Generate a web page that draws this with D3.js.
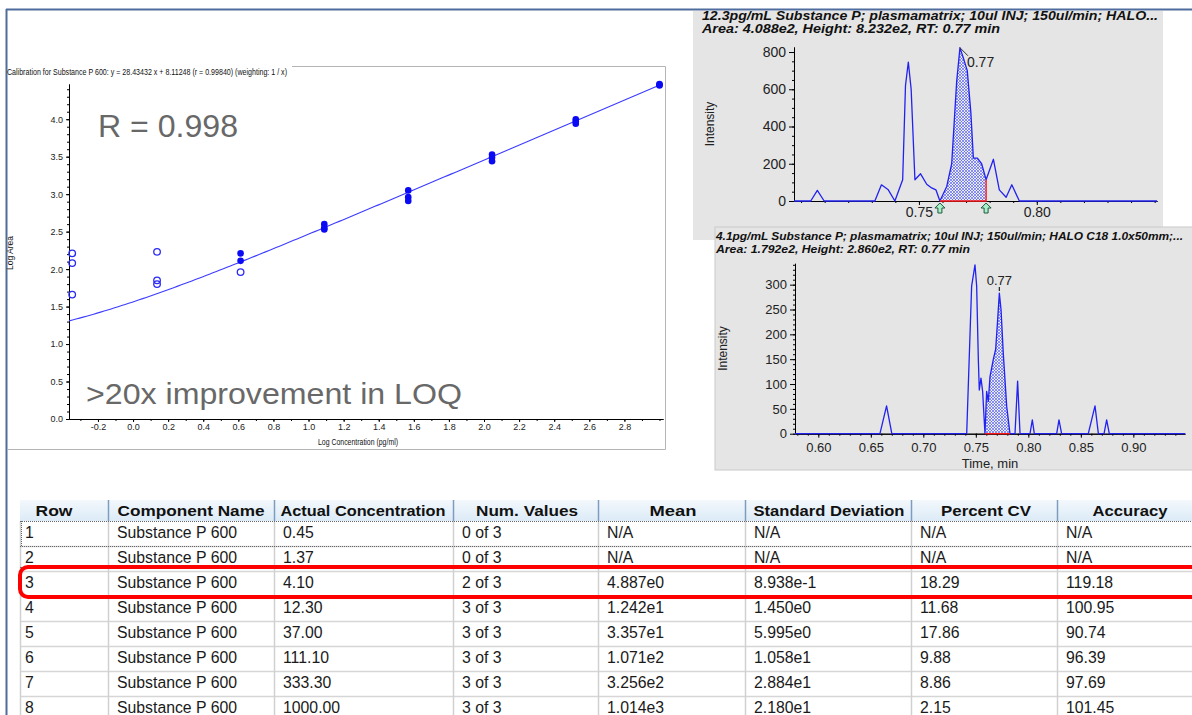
<!DOCTYPE html>
<html><head><meta charset="utf-8">
<script src="https://cdn.jsdelivr.net/npm/d3@7"></script>
<style>
html,body{margin:0;padding:0;background:#fff;}
svg{display:block;font-family:"Liberation Sans",Arial,sans-serif;}
</style></head><body>
<svg id="c" width="1192" height="715"></svg>
<script>
// ---------------- DATA ----------------
const calTitle = "Calibration for Substance P 600: y = 28.43432 x + 8.11248 (r = 0.99840)  (weighting: 1 / x)";
const fitSlope = 28.43432, fitIntercept = 8.11248;
const calConcentrations = [0.45, 1.37, 4.10, 12.30, 37.00, 111.10, 333.30, 1000.00];
const calLogAreaUsed = [[], [], [2.21, 2.11], [2.60, 2.55, 2.53], [3.05, 2.96, 2.91], [3.53, 3.49, 3.44], [4.00, 3.97, 3.94], [4.47, 4.45, 4.46]];
const calLogAreaExcluded = [[2.21, 2.08, 1.66], [2.23, 1.85, 1.80], [1.96], [], [], [], [], []];
const calXTicks = [-0.2, 0.0, 0.2, 0.4, 0.6, 0.8, 1.0, 1.2, 1.4, 1.6, 1.8, 2.0, 2.2, 2.4, 2.6, 2.8];
const calYTicks = [0.0, 0.5, 1.0, 1.5, 2.0, 2.5, 3.0, 3.5, 4.0];
const calXLabel = "Log Concentration (pg/ml)";
const calYLabel = "Log Area";
const noteR = "R = 0.998";
const noteLOQ = ">20x improvement in LOQ";

const chrom1Title = ["12.3pg/mL Substance P; plasmamatrix; 10ul INJ; 150ul/min; HALO...", "Area: 4.088e2, Height: 8.232e2, RT: 0.77 min"];
const chrom1Time = [0.6970, 0.7041, 0.7069, 0.7098, 0.7313, 0.7341, 0.7370, 0.7398, 0.7431, 0.7443, 0.7455, 0.7467, 0.7483, 0.7507, 0.7533, 0.7554, 0.7572, 0.7589, 0.7618, 0.7639, 0.7660, 0.7674, 0.7688, 0.7705, 0.7720, 0.7731, 0.7748, 0.7766, 0.7785, 0.7816, 0.7841, 0.7870, 0.7894, 0.7926, 0.8510];
const chrom1Intensity = [0, 0, 57, 0, 0, 87, 60, 0, 114, 620, 746, 600, 114, 146, 90, 70, 60, 0, 78, 200, 640, 823, 770, 700, 480, 230, 230, 200, 114, 224, 60, 20, 87, 0, 0];
const chrom1PeakStart = 0.7589, chrom1PeakEnd = 0.7785, chrom1Apex = 0.7674, chrom1ApexLabel = "0.77";
const chrom1XTicks = [0.75, 0.80];
const chrom1YTicks = [0, 200, 400, 600, 800];

const chrom2Title = ["4.1pg/mL Substance P; plasmamatrix; 10ul INJ; 150ul/min; HALO C18 1.0x50mm;...", "Area: 1.792e2, Height: 2.860e2, RT: 0.77 min"];
const chrom2Time = [0.5778, 0.6587, 0.6650, 0.6700, 0.7413, 0.7460, 0.7492, 0.7508, 0.7524, 0.7533, 0.7549, 0.7565, 0.7587, 0.7603, 0.7619, 0.7635, 0.7667, 0.7689, 0.7708, 0.7724, 0.7740, 0.7762, 0.7794, 0.7825, 0.7873, 0.7898, 0.7921, 0.8016, 0.8038, 0.8057, 0.8270, 0.8292, 0.8317, 0.8571, 0.8635, 0.8667, 0.8721, 0.8746, 0.8771, 0.9492];
const chrom2Intensity = [0, 0, 56, 0, 0, 297, 340, 297, 149, 88, 112, 85, 0, 85, 65, 115, 150, 170, 230, 283, 250, 160, 55, 0, 0, 106, 0, 0, 28, 0, 0, 28, 0, 0, 56, 0, 0, 28, 0, 0];
const chrom2PeakStart = 0.7587, chrom2PeakEnd = 0.7825, chrom2Apex = 0.7724, chrom2ApexLabel = "0.77";
const chrom2XTicks = [0.60, 0.65, 0.70, 0.75, 0.80, 0.85, 0.90];
const chrom2YTicks = [0, 50, 100, 150, 200, 250, 300];

const tableColumns = ["Row", "Component Name", "Actual Concentration", "Num. Values", "Mean", "Standard Deviation", "Percent CV", "Accuracy"];
const rowNumbers = ["1", "2", "3", "4", "5", "6", "7", "8"];
const componentNames = ["Substance P 600", "Substance P 600", "Substance P 600", "Substance P 600", "Substance P 600", "Substance P 600", "Substance P 600", "Substance P 600"];
const actualConcentration = ["0.45", "1.37", "4.10", "12.30", "37.00", "111.10", "333.30", "1000.00"];
const numValues = ["0 of 3", "0 of 3", "2 of 3", "3 of 3", "3 of 3", "3 of 3", "3 of 3", "3 of 3"];
const means = ["N/A", "N/A", "4.887e0", "1.242e1", "3.357e1", "1.071e2", "3.256e2", "1.014e3"];
const stdDevs = ["N/A", "N/A", "8.938e-1", "1.450e0", "5.995e0", "1.058e1", "2.884e1", "2.180e1"];
const percentCV = ["N/A", "N/A", "18.29", "11.68", "17.86", "9.88", "8.86", "2.15"];
const accuracy = ["N/A", "N/A", "119.18", "100.95", "90.74", "96.39", "97.69", "101.45"];
const highlightedRow = 2;

// ---------------- DRAW ----------------
const svg = d3.select("#c");
const defs = svg.append("defs");
const pat = defs.append("pattern").attr("id", "hatch").attr("width", 3).attr("height", 3).attr("patternUnits", "userSpaceOnUse");
pat.append("rect").attr("width", 3).attr("height", 3).attr("fill", "#e9ebf8");
pat.append("path").attr("d", "M0,0L3,3M3,0L0,3").attr("stroke", "#4650e6").attr("stroke-width", 0.6);
const hg = defs.append("linearGradient").attr("id", "hdr").attr("x1", 0).attr("x2", 0).attr("y1", 0).attr("y2", 1);
hg.append("stop").attr("offset", "0%").attr("stop-color", "#f3f8fc");
hg.append("stop").attr("offset", "100%").attr("stop-color", "#dcebf7");

// outer frame
svg.append("line").attr("x1", 6).attr("x2", 1192).attr("y1", 9.5).attr("y2", 9.5).attr("stroke", "#4f6d9c").attr("stroke-width", 2);
svg.append("line").attr("x1", 6.5).attr("x2", 6.5).attr("y1", 9).attr("y2", 715).attr("stroke", "#4f6d9c").attr("stroke-width", 2);

// ===== calibration panel =====
const gCal = svg.append("g");
gCal.append("line").attr("x1", 292).attr("x2", 665.5).attr("y1", 66.5).attr("y2", 66.5).attr("stroke", "#b4b4b4");
gCal.append("line").attr("x1", 665.5).attr("x2", 665.5).attr("y1", 66.5).attr("y2", 449.5).attr("stroke", "#b4b4b4");
gCal.append("line").attr("x1", 8).attr("x2", 665.5).attr("y1", 449.5).attr("y2", 449.5).attr("stroke", "#b4b4b4");
gCal.append("text").attr("x", 7).attr("y", 75).attr("font-size", 9).attr("fill", "#111")
  .attr("textLength", 280).attr("lengthAdjust", "spacingAndGlyphs").text(calTitle);

const xC = d3.scaleLinear().domain([-0.365, 3.02]).range([69, 663]);
const yC = d3.scaleLinear().domain([0, 4.47]).range([419, 84]);

function styleAxis(g, fs, col) {
  g.attr("font-size", fs).attr("font-family", '"Liberation Sans",Arial,sans-serif');
  g.selectAll("path.domain").attr("stroke", "#000");
  g.selectAll(".tick line").attr("stroke", "#000");
  g.selectAll(".tick text").attr("fill", col);
}
// minor ticks
gCal.append("g").attr("transform", "translate(0,419)")
  .call(d3.axisBottom(xC).tickValues(d3.range(-0.3, 3.01, 0.1)).tickSize(2).tickFormat("").tickSizeOuter(0))
  .call(g => styleAxis(g, 9, "#222"));
gCal.append("g").attr("transform", "translate(69,0)")
  .call(d3.axisLeft(yC).tickValues(d3.range(0, 4.45, 0.1)).tickSize(2).tickFormat("").tickSizeOuter(0))
  .call(g => styleAxis(g, 9, "#222"));
// major ticks
gCal.append("g").attr("transform", "translate(0,419)")
  .call(d3.axisBottom(xC).tickValues(calXTicks).tickSize(3).tickPadding(2).tickSizeOuter(0).tickFormat(d => d.toFixed(1)))
  .call(g => styleAxis(g, 9, "#222"));
gCal.append("g").attr("transform", "translate(69,0)")
  .call(d3.axisLeft(yC).tickValues(calYTicks).tickSize(3).tickPadding(3).tickSizeOuter(0).tickFormat(d => d.toFixed(1)))
  .call(g => styleAxis(g, 9, "#222"));
gCal.append("text").attr("x", 358).attr("y", 445).attr("text-anchor", "middle").attr("font-size", 9).attr("fill", "#111")
  .attr("textLength", 80).attr("lengthAdjust", "spacingAndGlyphs").text(calXLabel);
gCal.append("text").attr("transform", "translate(13,253) rotate(-90)").attr("text-anchor", "middle").attr("font-size", 8.5).attr("fill", "#111")
  .text(calYLabel);

// fit curve (from the stated regression equation)
const fitX = d3.range(xC.domain()[0], 3.0001, 0.02);
const fitLine = d3.line().x(d => xC(d)).y(d => yC(Math.log10(fitSlope * Math.pow(10, d) + fitIntercept)));
gCal.append("path").attr("d", fitLine(fitX)).attr("fill", "none").attr("stroke", "#3c3cff").attr("stroke-width", 1.1);

const usedPts = [], exclPts = [];
calConcentrations.forEach((c, i) => {
  calLogAreaUsed[i].forEach(v => usedPts.push([Math.log10(c), v]));
  calLogAreaExcluded[i].forEach(v => exclPts.push([Math.log10(c), v]));
});
gCal.selectAll("circle.used").data(usedPts).join("circle").attr("class", "used")
  .attr("cx", d => xC(d[0])).attr("cy", d => yC(d[1])).attr("r", 3.3).attr("fill", "#0a0af5");
gCal.selectAll("circle.excl").data(exclPts).join("circle").attr("class", "excl")
  .attr("cx", d => xC(d[0])).attr("cy", d => yC(d[1])).attr("r", 3.3).attr("fill", "none").attr("stroke", "#2a2af5").attr("stroke-width", 1.3);

gCal.append("text").attr("x", 98).attr("y", 137).attr("font-size", 32).attr("fill", "#686868")
  .attr("textLength", 140).attr("lengthAdjust", "spacingAndGlyphs").text(noteR);
gCal.append("text").attr("x", 86).attr("y", 404).attr("font-size", 30).attr("fill", "#686868")
  .attr("textLength", 376).attr("lengthAdjust", "spacingAndGlyphs").text(noteLOQ);

// ===== chromatogram panels =====
function drawChrom(o) {
  const g = svg.append("g");
  g.append("rect").attr("x", o.box[0]).attr("y", o.box[1]).attr("width", o.box[2]).attr("height", o.box[3])
    .attr("fill", "#e5e5e5").attr("stroke", o.boxStroke || "none");
  o.title.forEach((t, i) => {
    g.append("text").attr("x", o.titleX).attr("y", o.titleY[i]).attr("font-size", o.titleFs)
      .attr("font-weight", "bold").attr("font-style", "italic").attr("fill", "#111")
      .attr("textLength", o.titleW[i]).attr("lengthAdjust", "spacingAndGlyphs").text(t);
  });
  const x = d3.scaleLinear().domain(o.xDom).range(o.xRange);
  const y = d3.scaleLinear().domain(o.yDom).range(o.yRange);
  // minor ticks
  g.append("g").attr("transform", `translate(0,${o.yRange[0]})`)
    .call(d3.axisBottom(x).tickValues(o.xMinor).tickSize(2).tickFormat("").tickSizeOuter(0))
    .call(a => styleAxis(a, o.fs, "#222"));
  g.append("g").attr("transform", `translate(${o.xRange[0]},0)`)
    .call(d3.axisLeft(y).tickValues(o.yMinor).tickSize(2).tickFormat("").tickSizeOuter(0))
    .call(a => styleAxis(a, o.fs, "#222"));
  g.append("g").attr("transform", `translate(0,${o.yRange[0]})`)
    .call(d3.axisBottom(x).tickValues(o.xTicks).tickSize(4).tickPadding(o.xPad).tickSizeOuter(0).tickFormat(d3.format(".2f")))
    .call(a => styleAxis(a, o.fs, "#222"));
  g.append("g").attr("transform", `translate(${o.xRange[0]},0)`)
    .call(d3.axisLeft(y).tickValues(o.yTicks).tickSize(5).tickPadding(3).tickSizeOuter(0))
    .call(a => styleAxis(a, o.fs, "#222"));
  g.append("text").attr("transform", `translate(${o.yLabelX},${(o.yRange[0] + o.yRange[1]) / 2}) rotate(-90)`)
    .attr("text-anchor", "middle").attr("font-size", 12).attr("fill", "#222").text("Intensity");
  if (o.xLabel) g.append("text").attr("x", (o.xRange[0] + o.xRange[1]) / 2).attr("y", o.xLabelY)
    .attr("text-anchor", "middle").attr("font-size", 13).attr("fill", "#222").text(o.xLabel);

  const pts = o.time.map((t, i) => [t, o.inten[i]]);
  const peak = pts.filter(p => p[0] >= o.ps - 1e-9 && p[0] <= o.pe + 1e-9);
  g.append("path").attr("d", d3.area().x(d => x(d[0])).y0(y(0)).y1(d => y(d[1]))(peak)).attr("fill", "url(#hatch)");
  g.append("path").attr("d", d3.line().x(d => x(d[0])).y(d => y(d[1]))(pts))
    .attr("fill", "none").attr("stroke", "#2222f0").attr("stroke-width", 1.3).attr("stroke-linejoin", "round");
  const endV = peak[peak.length - 1][1];
  g.append("path").attr("d", `M${x(o.ps)},${y(0)}L${x(o.pe)},${y(0)}L${x(o.pe)},${y(endV)}`)
    .attr("fill", "none").attr("stroke", "#ff1a1a").attr("stroke-width", 1.4);
  const ai = o.time.indexOf(o.apex);
  const ax = x(o.apex), ay = y(o.inten[ai]);
  if (o.labelMode === "leader") {
    g.append("line").attr("x1", ax).attr("y1", ay).attr("x2", ax + 8).attr("y2", ay + 8).attr("stroke", "#333");
    g.append("text").attr("x", ax + 7).attr("y", ay + 19).attr("font-size", 14).attr("fill", "#222").text(o.apexLabel);
  } else {
    g.append("text").attr("x", ax).attr("y", ay - 8).attr("text-anchor", "middle").attr("font-size", 13).attr("fill", "#222").text(o.apexLabel);
    g.append("line").attr("x1", ax).attr("x2", ax).attr("y1", ay - 6).attr("y2", ay - 2).attr("stroke", "#222").attr("stroke-width", 1.2);
  }
  if (o.arrows) {
    [o.ps, o.pe].forEach(t => {
      const cx = x(t), top = o.yRange[0] + 2;
      g.append("path").attr("d", `M${cx},${top}L${cx + 5},${top + 5}L${cx + 2},${top + 5}L${cx + 2},${top + 10}L${cx - 2},${top + 10}L${cx - 2},${top + 5}L${cx - 5},${top + 5}Z`)
        .attr("fill", "#a8f0cc").attr("stroke", "#1f5a3a").attr("stroke-width", 1);
    });
  }
}

drawChrom({
  box: [693, 11, 470, 229], title: chrom1Title, titleX: 702, titleY: [20, 33], titleFs: 12, titleW: [456, 298],
  xDom: [0.697, 0.851], xRange: [794, 1157], yDom: [0, 827], yRange: [201, 47],
  xTicks: chrom1XTicks, yTicks: chrom1YTicks, xMinor: d3.range(0.70, 0.851, 0.01), yMinor: d3.range(0, 826, 50),
  fs: 14, xPad: 2, yLabelX: 714, xLabel: null,
  time: chrom1Time, inten: chrom1Intensity, ps: chrom1PeakStart, pe: chrom1PeakEnd, apex: chrom1Apex, apexLabel: chrom1ApexLabel,
  labelMode: "leader", arrows: true
});
drawChrom({
  box: [715, 227, 480, 243], boxStroke: "#c9c9c9", title: chrom2Title, titleX: 716, titleY: [240, 253], titleFs: 11, titleW: [467, 254],
  xDom: [0.5778, 0.9492], xRange: [795, 1185], yDom: [0, 343], yRange: [433.7, 263.3],
  xTicks: chrom2XTicks, yTicks: chrom2YTicks, xMinor: d3.range(0.58, 0.95, 0.01), yMinor: d3.range(0, 341, 10),
  fs: 13, xPad: 5, yLabelX: 727, xLabel: "Time, min", xLabelY: 468,
  time: chrom2Time, inten: chrom2Intensity, ps: chrom2PeakStart, pe: chrom2PeakEnd, apex: chrom2Apex, apexLabel: chrom2ApexLabel,
  labelMode: "tick", arrows: false
});

// ===== table =====
const gT = svg.append("g");
const colX = [20, 108, 274, 453, 598, 745, 911, 1057, 1203];
const hdrCenters = [54, 191, 363, 527, 673, 829, 986, 1130];
const hdrWidths = [37, 147, 165, 102, 47, 151, 90, 75];
const hdrTop = 500, hdrBot = 521, rowH = 25;
gT.append("rect").attr("x", 20).attr("y", hdrTop).attr("width", 1172).attr("height", hdrBot - hdrTop).attr("fill", "url(#hdr)");
const cols = [rowNumbers, componentNames, actualConcentration, numValues, means, stdDevs, percentCV, accuracy];
// horizontal grid
d3.range(1, 9).forEach(i => {
  gT.append("line").attr("x1", 20).attr("x2", 1192).attr("y1", hdrBot + i * rowH + 0.5).attr("y2", hdrBot + i * rowH + 0.5)
    .attr("stroke", "#d6d6d6").attr("stroke-width", 1.5);
});
// vertical grid
colX.slice(0, 8).forEach((cx, i) => {
  gT.append("line").attr("x1", cx + 0.5).attr("x2", cx + 0.5).attr("y1", hdrBot).attr("y2", 715)
    .attr("stroke", "#d0d0d0").attr("stroke-width", 1.5);
  if (i > 0) gT.append("line").attr("x1", cx + 0.5).attr("x2", cx + 0.5).attr("y1", hdrTop).attr("y2", hdrBot)
    .attr("stroke", "#7d9cc0").attr("stroke-width", 1.5);
});
// dotted focus lines
gT.append("line").attr("x1", 20).attr("x2", 1192).attr("y1", hdrBot + 0.5).attr("y2", hdrBot + 0.5)
  .attr("stroke", "#666").attr("stroke-dasharray", "1,1");
gT.append("line").attr("x1", 20).attr("x2", 1192).attr("y1", hdrBot + rowH + 0.5).attr("y2", hdrBot + rowH + 0.5)
  .attr("stroke", "#666").attr("stroke-dasharray", "1,1");
gT.append("line").attr("x1", 21.5).attr("x2", 21.5).attr("y1", hdrBot).attr("y2", hdrBot + rowH)
  .attr("stroke", "#666").attr("stroke-dasharray", "1,1");
gT.append("line").attr("x1", 20).attr("x2", 1192).attr("y1", hdrBot + 2 * rowH - 3.5).attr("y2", hdrBot + 2 * rowH - 3.5)
  .attr("stroke", "#555").attr("stroke-width", 0.8);

gT.selectAll("text.hdr").data(tableColumns).join("text").attr("class", "hdr")
  .attr("x", (d, i) => hdrCenters[i]).attr("y", hdrBot - 5).attr("text-anchor", "middle")
  .attr("font-size", 15).attr("font-weight", "bold").attr("fill", "#111")
  .attr("textLength", (d, i) => hdrWidths[i]).attr("lengthAdjust", "spacingAndGlyphs").text(d => d);
cols.forEach((arr, ci) => {
  gT.selectAll(`text.c${ci}`).data(arr).join("text").attr("class", `c${ci}`)
    .attr("x", ci === 0 ? 25 : colX[ci] + 9).attr("y", (d, ri) => hdrBot + ri * rowH + 17)
    .attr("font-size", 15.8).attr("fill", "#1a1a1a").text(d => d);
});
// highlight
gT.append("rect").attr("x", 20).attr("y", hdrBot + highlightedRow * rowH - 4).attr("width", 1200).attr("height", rowH + 5)
  .attr("rx", 8).attr("fill", "none").attr("stroke", "#ff0000").attr("stroke-width", 4);
</script>
</body></html>
